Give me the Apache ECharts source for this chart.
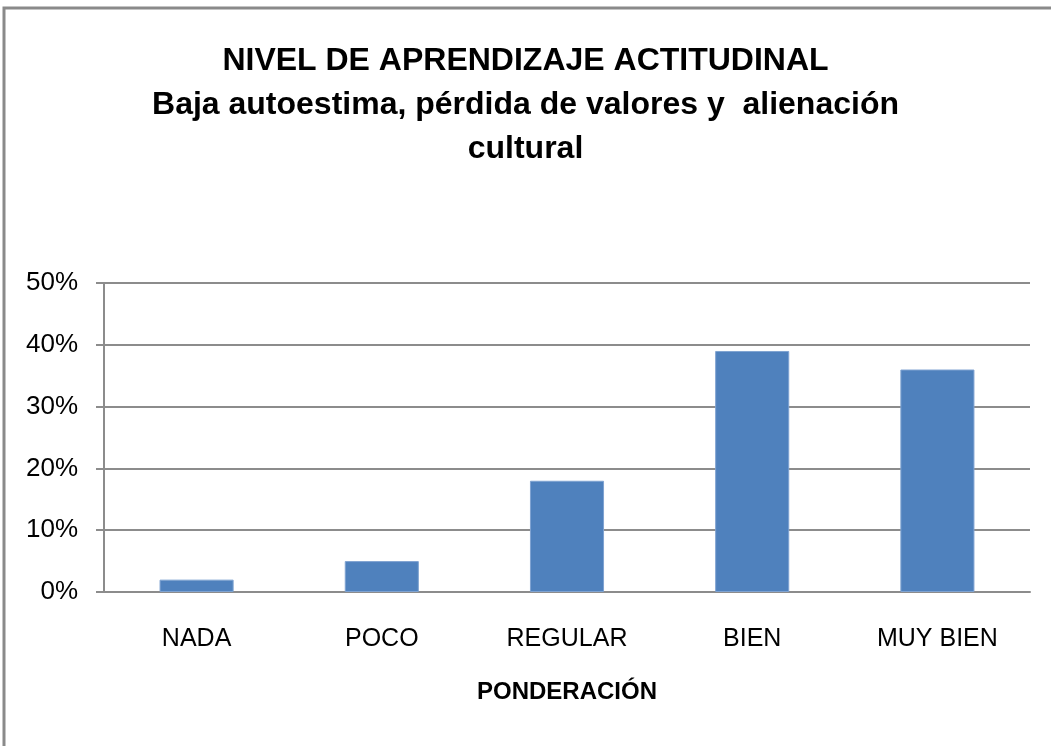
<!DOCTYPE html>
<html>
<head>
<meta charset="utf-8">
<title>Nivel de aprendizaje actitudinal</title>
<script src="https://cdn.jsdelivr.net/npm/echarts@6/dist/echarts.min.js"></script>
<style>
  html, body { margin: 0; padding: 0; background: #fff; }
  #chart { width: 1051px; height: 746px; }
</style>
</head>
<body>
<div id="chart"></div>
<script>
// datos
const categories = ['NADA', 'POCO', 'REGULAR', 'BIEN', 'MUY BIEN']
const porcentajes = [2, 5, 18, 39, 36]
const yTicks = [0, 10, 20, 30, 40, 50]

const narrow = '"Liberation Sans Narrow", "Liberation Sans", Arial, sans-serif'
const gridColor = '#8c8c8c'

const chart = echarts.init(document.getElementById('chart'), null, { renderer: 'canvas' })

chart.setOption({
  backgroundColor: '#fff',
  animation: false,
  title: {
    text: 'NIVEL DE APRENDIZAJE ACTITUDINAL\nBaja autoestima, pérdida de valores y  alienación\ncultural',
    left: 'center',
    top: 34,
    textStyle: {
      fontFamily: narrow,
      fontWeight: 'bold',
      fontSize: 32,
      lineHeight: 44,
      color: '#000'
    }
  },
  // marco exterior del grafico (solo arriba e izquierda visibles)
  graphic: [
    {
      type: 'rect',
      shape: { x: 4, y: 8, width: 1100, height: 800 },
      style: { fill: 'none', stroke: '#8a8a8a', lineWidth: 3 },
      silent: true
    }
  ],
  grid: {
    left: 104,
    right: 21,
    top: 283,
    bottom: 154,
    containLabel: false
  },
  xAxis: {
    type: 'category',
    data: categories,
    name: 'PONDERACIÓN',
    nameLocation: 'middle',
    nameGap: 88,
    nameTextStyle: {
      fontFamily: narrow,
      fontWeight: 'bold',
      fontSize: 24,
      color: '#000'
    },
    axisLine: { show: true, lineStyle: { color: gridColor, width: 2 } },
    axisTick: { show: false },
    axisLabel: {
      fontFamily: narrow,
      fontSize: 25,
      color: '#000',
      margin: 35
    }
  },
  yAxis: {
    type: 'value',
    min: yTicks[0],
    max: yTicks[yTicks.length - 1],
    interval: 10,
    axisLine: { show: true, lineStyle: { color: gridColor, width: 2 } },
    axisTick: { show: true, inside: false, length: 8, lineStyle: { color: gridColor, width: 2 } },
    axisLabel: {
      fontFamily: narrow,
      fontSize: 26,
      color: '#000',
      margin: 26,
      formatter: v => v + '%'
    },
    splitLine: { show: true, lineStyle: { color: gridColor, width: 2 } }
  },
  series: [
    {
      name: 'Ponderación',
      type: 'bar',
      data: porcentajes,
      barWidth: '40%',
      itemStyle: {
        color: '#4f81bd',
        borderColor: '#7fa3d1',
        borderWidth: 1
      }
    }
  ]
})
</script>
</body>
</html>
